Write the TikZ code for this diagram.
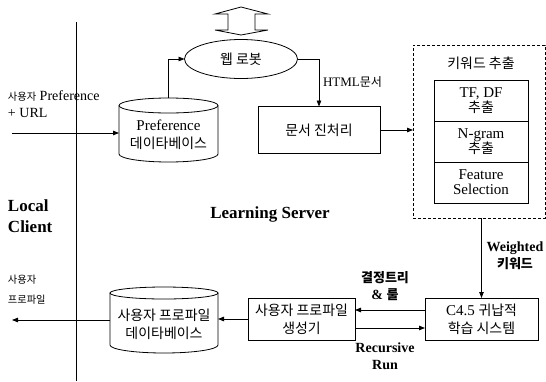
\documentclass[tikz,border=0pt]{standalone}
\usepackage{fontspec}
\setmainfont{Liberation Serif}
\newfontfamily\kr{Noto Sans CJK KR}[Scale=0.93]
\usetikzlibrary{arrows.meta,shapes.geometric}
\begin{document}
\begin{tikzpicture}[x=1pt,y=-1pt,
  every node/.style={font=\fontsize{15}{18}\selectfont, inner sep=0pt, outer sep=0pt, align=center},
  line/.style={line width=0.8pt},
  arr/.style={line width=0.8pt, -{Triangle[length=6pt,width=4.5pt]}},
  box/.style={draw, line width=0.8pt},
  cellbox/.style={draw, line width=0.8pt, minimum width=94pt, minimum height=41pt, font=\fontsize{15}{15}\selectfont},
  smalllab/.style={font=\fontsize{11}{20}\selectfont, align=left, anchor=west},
  boldlab/.style={font=\fontsize{14}{17}\selectfont\bfseries},
  biglab/.style={font=\fontsize{17}{21}\selectfont\bfseries}
]
\useasboundingbox (0,0) rectangle (546,381);

% separator line
\coordinate (vtop) at (76,22);
\coordinate (vbot) at (76,381);
\draw[line] (vtop) -- (vbot);

% up-down block arrow
\draw[line] (241,7) -- (268,14) -- (255,14) -- (255,30) -- (268,30) -- (241,35)
  -- (215,30) -- (228,30) -- (228,14) -- (215,14) -- cycle;

% web robot
\node[box, ellipse, minimum width=113pt, minimum height=39pt] (robot) at (241,59) {\kr 웹 로봇};

% Preference database cylinder
\node[minimum width=99pt, minimum height=64pt] (pdb) at (168.5,130) {};
\draw[line] ([yshift=-7.5pt]pdb.north west) -- ([yshift=8pt]pdb.south west)
  arc[start angle=180, end angle=360, x radius=49.5pt, y radius=8pt]
  -- ([yshift=-7.5pt]pdb.north east);
\draw[line] ([yshift=-7.5pt]pdb.north) ellipse [x radius=49.5pt, y radius=7.5pt];
\node (pdbtext) at (168.5,135) {Preference\\{\kr 데이타베이스}};

% user profile database cylinder
\node[minimum width=108pt, minimum height=66pt] (udb) at (164,320) {};
\draw[line] ([yshift=-6pt]udb.north west) -- ([yshift=8pt]udb.south west)
  arc[start angle=180, end angle=360, x radius=54pt, y radius=8pt]
  -- ([yshift=-6pt]udb.north east);
\draw[line] ([yshift=-6pt]udb.north) ellipse [x radius=54pt, y radius=6pt];
\node (udbtext) at (164,324.5) {{\kr 사용자 프로파일}\\{\kr 데이타베이스}};

% document preprocessing
\node[box, minimum width=122pt, minimum height=47pt] (doc) at (319,130) {\kr 문서 진처리};

% keyword extraction
\node[draw, line width=0.8pt, dash pattern=on 3pt off 2pt, minimum width=132pt, minimum height=173pt] (kw) at (479,131.5) {};
\node (kwtitle) at (481,63) {\kr 키워드 추출};
\node[cellbox] (tf) at (481,100.5) {TF, DF\\{\kr 추출}};
\node[cellbox] (ng) at (481,141.5) {N-gram\\{\kr 추출}};
\node[cellbox] (fs) at (481,182.5) {Feature\\Selection};

% C4.5 and generator
\node[box, minimum width=113pt, minimum height=42pt] (c45) at (481.5,319) {C4.5 {\kr 귀납적}\\{\kr 학습 시스템}};
\node[box, minimum width=107pt, minimum height=42pt] (gen) at (301.5,319) {{\kr 사용자 프로파일}\\{\kr 생성기}};

% free ends
\coordinate (in) at (12,133);
\coordinate (out) at (12,320);

% connectors
\draw[arr] (in) -- (in -| pdb.west);
\draw[arr] (pdb.north) |- (robot.west);
\draw[arr] (robot.east) -| (doc.north);
\draw[arr] (doc.east) -- (doc.east -| kw.west);
\draw[arr] (c45.north |- kw.south) -- (c45.north);
\draw[arr] ([yshift=9pt]c45.west) -- ([yshift=9pt]gen.east);
\draw[arr] ([yshift=-9pt]gen.east) -- ([yshift=-9pt]c45.west);
\draw[arr] (gen.west) -- (gen.west -| udb.east);
\draw[arr] (udb.west) -- (out);

% labels
\node[anchor=west, font=\fontsize{13}{16}\selectfont] (html) at (323,82) {HTML{\kr 문서}};
\node[boldlab] (wlabel) at (515,256) {Weighted\\{\kr 키워드}};
\node[boldlab] (dtlabel) at (385,286) {{\kr 결정트리}\\\& {\kr 룰}};
\node[boldlab] (rrlabel) at (385,356) {Recursive\\Run};
\node[anchor=west, align=left, font=\fontsize{14}{17}\selectfont] (inlabel) at (8,104.5) {{\fontsize{11}{17}\selectfont\kr 사용자} Preference\\+ URL};
\node[smalllab] (outlabel) at (8,290) {{\kr 사용자}\\{\kr 프로파일}};
\node[biglab, anchor=west, align=left] (local) at (8,216) {Local\\Client};
\node[biglab] (server) at (270,214) {Learning Server};
\end{tikzpicture}
\end{document}
